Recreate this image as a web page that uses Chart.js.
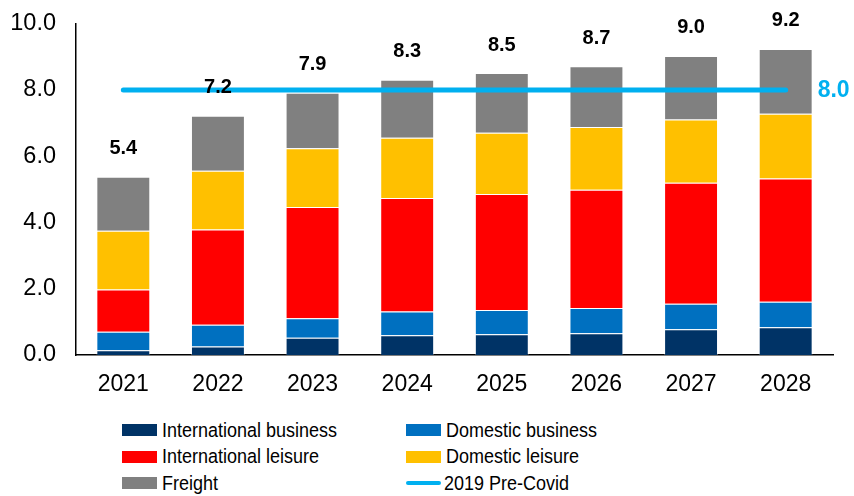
<!DOCTYPE html>
<html>
<head>
<meta charset="utf-8">
<script src="https://cdn.jsdelivr.net/npm/chart.js@4"></script>
<style>
  body { margin: 0; background: #fff; font-family: "Liberation Sans", Arial, sans-serif; }
  #wrap { position: relative; width: 854px; height: 496px; overflow: hidden; }
  #chart { position: absolute; left: 0; top: 0; }
  #legend {
    position: absolute; left: 122px; top: 417px;
    display: grid; grid-template-columns: 284px 300px; grid-auto-rows: 26.5px;
    font-size: 18px; color: #000;
  }
  .item { display: flex; align-items: center; white-space: nowrap; }
  .item span.t { display: inline-block; transform: scaleY(1.15); }
  .sw { width: 35px; height: 12px; margin-right: 5px; flex: none; }
  .ln { width: 35px; height: 4px; border-radius: 2px; margin-right: 3px; flex: none; }
</style>
</head>
<body>
<div id="wrap">
  <canvas id="chart" width="854" height="405"></canvas>
  <div id="legend"></div>
</div>
<script>
// --- データ ---
const years = ["2021", "2022", "2023", "2024", "2025", "2026", "2027", "2028"];
const intlBusiness = [0.14, 0.26, 0.52, 0.60, 0.63, 0.66, 0.78, 0.84];
const domBusiness  = [0.56, 0.65, 0.59, 0.71, 0.73, 0.76, 0.77, 0.77];
const intlLeisure  = [1.28, 2.88, 3.36, 3.43, 3.50, 3.57, 3.65, 3.72];
const domLeisure   = [1.77, 1.77, 1.77, 1.82, 1.85, 1.89, 1.91, 1.95];
const freight      = [1.63, 1.66, 1.68, 1.75, 1.80, 1.84, 1.92, 1.96];
const totalLabels  = ["5.4", "7.2", "7.9", "8.3", "8.5", "8.7", "9.0", "9.2"];
const preCovid2019 = 8.0;
const yTicks = [0, 2, 4, 6, 8, 10];

const FONT = "'Liberation Sans', Arial, sans-serif";

const barSets = [
  { label: "International business", data: intlBusiness, color: "#003366" },
  { label: "Domestic business", data: domBusiness, color: "#0070C0" },
  { label: "International leisure", data: intlLeisure, color: "#FF0000" },
  { label: "Domestic leisure", data: domLeisure, color: "#FFC000" },
  { label: "Freight", data: freight, color: "#808080" },
];
const lineColor = "#00B0F0";

// 合計ラベルと 8.0 ラベル
const labelPlugin = {
  id: "labels",
  afterDatasetsDraw(chart) {
    const { ctx, scales: { x, y } } = chart;
    ctx.save();
    ctx.textAlign = "center";
    ctx.textBaseline = "middle";
    ctx.fillStyle = "#000";
    ctx.font = "bold 20px " + FONT;
    years.forEach((yr, i) => {
      const total = barSets.reduce((s, d) => s + d.data[i], 0);
      ctx.fillText(totalLabels[i], x.getPixelForValue(i), y.getPixelForValue(total) - 28);
    });
    ctx.textAlign = "left";
    ctx.fillStyle = lineColor;
    ctx.font = "bold 23px " + FONT;
    ctx.fillText(preCovid2019.toFixed(1), x.getPixelForValue(years.length - 1) + 32, y.getPixelForValue(preCovid2019) + 1);
    ctx.restore();
  }
};

const ctx = document.getElementById("chart").getContext("2d");
new Chart(ctx, {
  data: {
    labels: years,
    datasets: [
      {
        type: "line",
        label: "2019 Pre-Covid",
        data: years.map(() => preCovid2019),
        borderColor: lineColor,
        borderWidth: 5,
        borderCapStyle: "round",
        pointRadius: 0,
        stack: "precovid",
        order: 0,
      },
      ...barSets.map(d => ({
        type: "bar",
        label: d.label,
        data: d.data,
        backgroundColor: d.color,
        borderColor: "rgba(255,255,255,0.3)",
        borderWidth: 1,
        stack: "segments",
        order: 1,
        categoryPercentage: 1,
        barPercentage: 0.57,
      })),
    ],
  },
  options: {
    responsive: false,
    animation: false,
    layout: { padding: { top: 22, right: 21, left: 0, bottom: 0 } },
    plugins: { legend: { display: false }, tooltip: { enabled: false } },
    scales: {
      x: {
        stacked: true,
        grid: { display: false },
        border: { display: true, color: "#000", width: 1.5 },
        ticks: { color: "#000", font: { family: FONT, size: 23 }, padding: 8 },
        afterFit: s => { s.height = 50; },
      },
      y: {
        stacked: true,
        min: 0,
        max: 10,
        afterBuildTicks: s => { s.ticks = yTicks.map(v => ({ value: v })); },
        grid: { display: false },
        border: { display: true, color: "#000", width: 1.5 },
        ticks: {
          color: "#000",
          font: { family: FONT, size: 23.5, lineHeight: 1 },
          padding: 12,
          callback: v => Number(v).toFixed(1),
        },
        afterFit: s => { s.width = 76; },
      },
    },
  },
  plugins: [labelPlugin],
});

// 凡例 (2 列)
const legendItems = [
  barSets[0], barSets[1], barSets[2], barSets[3], barSets[4],
  { label: "2019 Pre-Covid", color: lineColor, line: true },
];
const legend = document.getElementById("legend");
legendItems.forEach(it => {
  const el = document.createElement("div");
  el.className = "item";
  const sw = document.createElement("span");
  sw.className = it.line ? "ln" : "sw";
  sw.style.background = it.color;
  el.appendChild(sw);
  const t = document.createElement("span");
  t.className = "t";
  t.textContent = it.label;
  el.appendChild(t);
  legend.appendChild(el);
});
</script>
</body>
</html>
